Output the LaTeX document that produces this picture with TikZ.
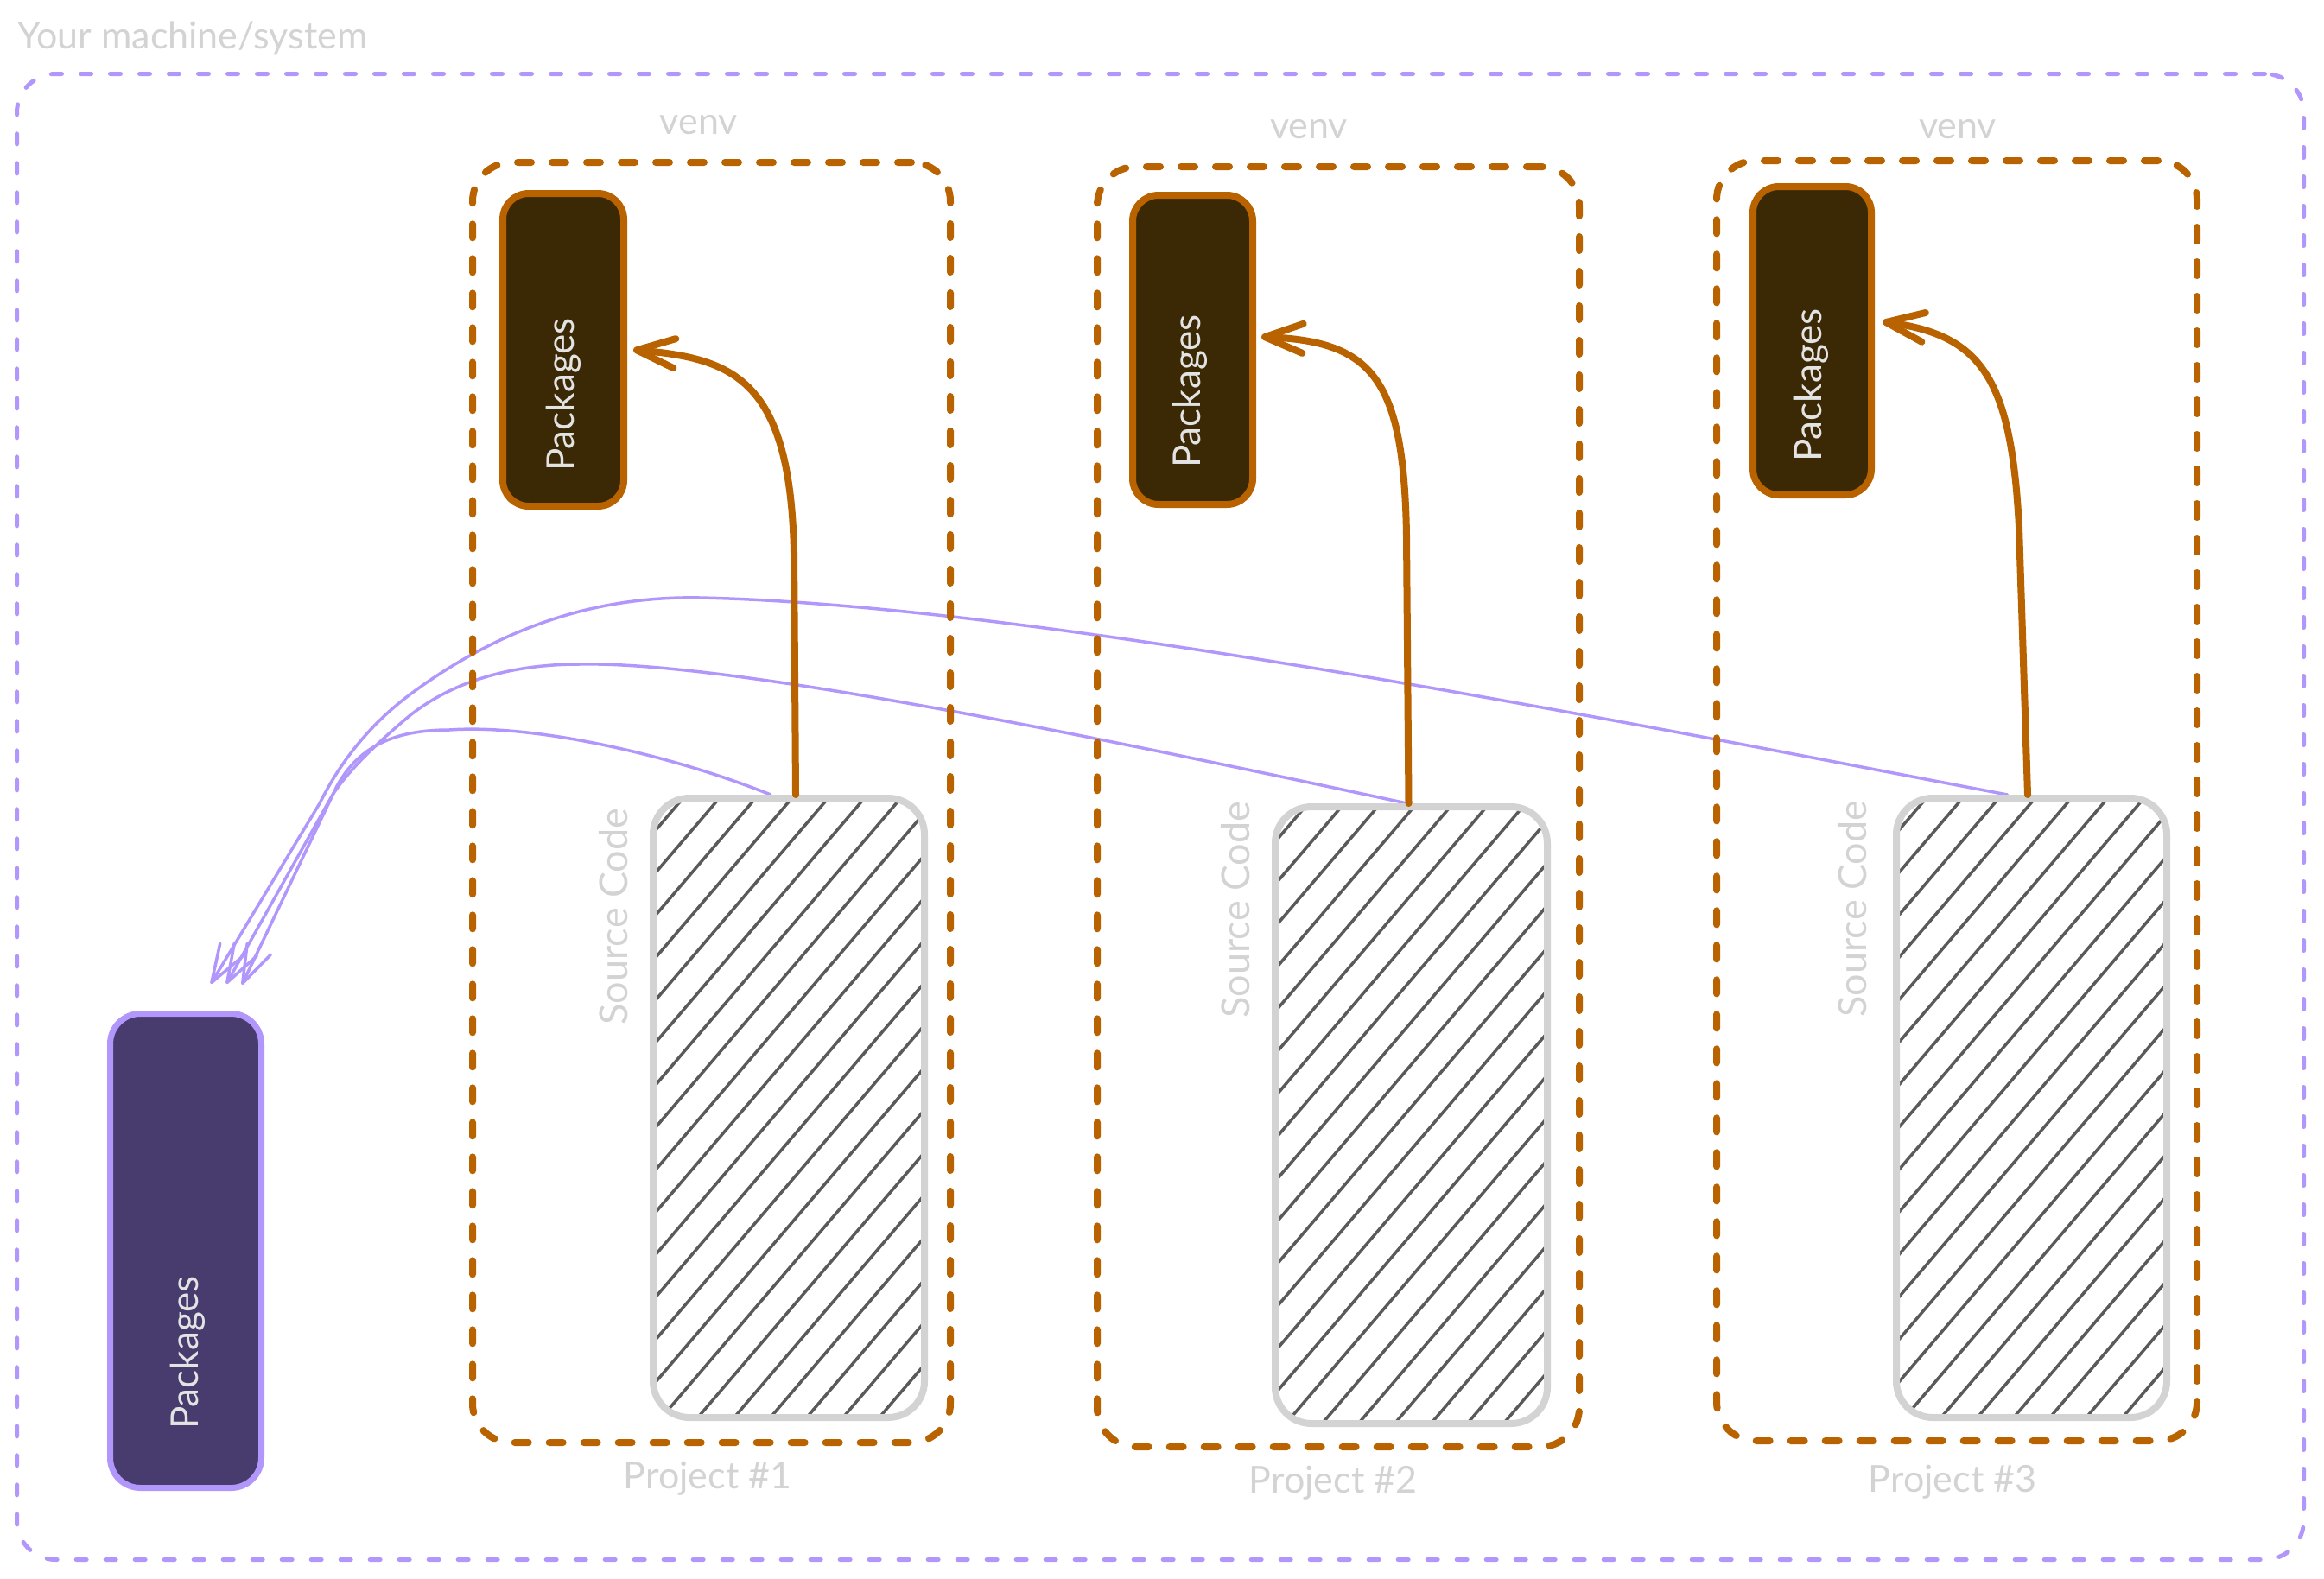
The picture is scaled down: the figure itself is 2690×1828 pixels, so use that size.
\documentclass[tikz,border=0pt]{standalone}
\usepackage{fontspec}
\setmainfont{Lato}
\usetikzlibrary{arrows.meta}
\pgfdeclarelayer{bg}
\pgfsetlayers{bg,main}
\definecolor{vio}{HTML}{B197FC}
\definecolor{viofill}{HTML}{483B6E}
\definecolor{orng}{HTML}{B86200}
\definecolor{brwn}{HTML}{3B2905}
\definecolor{lgray}{HTML}{D3D3D3}
\definecolor{hatchc}{HTML}{5A5A5A}
\definecolor{txtw}{HTML}{E3E3E3}
\newcommand\hatchin[4]{%
  \begin{scope}
    \clip[rounded corners=38pt] ({#1+4},{#2+4}) rectangle ({#3-4},{#4-4});
    \pgfmathsetmacro\hh{#4-#2}
    \pgfmathsetmacro\ww{\hh/1.17}
    \foreach \k in {0,...,24} {
      \draw[hatchline] ({#1-\ww+\k*42},{#4}) -- ++(\ww,-\hh);
    }
  \end{scope}}
\begin{document}
\begin{tikzpicture}[x=1pt,y=-1pt,
  lbl/.style={text=lgray, font=\fontsize{43}{50}\selectfont, inner sep=0pt},
  srclbl/.style={text=lgray, font=\fontsize{45}{52}\selectfont, inner sep=0pt, rotate=90},
  pkgtxt/.style={text=txtw, font=\fontsize{44}{52}\selectfont, rotate=90, inner sep=0pt},
  outerbox/.style={draw=vio, line width=5pt, dash pattern=on 12pt off 22pt, line cap=round, rounded corners=45pt, rectangle, inner sep=0pt},
  venvbox/.style={draw=orng, line width=8pt, dash pattern=on 16pt off 24pt, line cap=round, rounded corners=45pt, rectangle, inner sep=0pt},
  pkgbox/.style={draw=orng, fill=brwn, line width=8pt, rounded corners=30pt, rectangle, inner sep=0pt},
  syspkg/.style={draw=vio, fill=viofill, line width=7pt, rounded corners=35pt, rectangle, inner sep=0pt},
  srcbox/.style={draw=lgray, line width=8pt, rounded corners=42pt, rectangle, inner sep=0pt},
  hatchline/.style={draw=hatchc, line width=3.5pt, line cap=round},
  oarrow/.style={draw=orng, line width=8pt, line cap=round, line join=round, -{Straight Barb[length=44pt,width=34pt,round]}},
  parrow/.style={draw=vio, line width=3.5pt, line cap=round, line join=round, -{Straight Barb[length=44pt,width=30pt,round]}}
]
\useasboundingbox (0,0) rectangle (2690,1828);

% outer system box
\node[outerbox, minimum width=2647pt, minimum height=1720pt] (sys) at (1343,945.5) {};
\node[lbl, anchor=base west] (title) at (20,57) {Your machine/system};

% venv boxes
\node[venvbox, minimum width=553pt, minimum height=1482pt] (v1) at (823.5,929) {};
\node[venvbox, minimum width=558pt, minimum height=1482pt] (v2) at (1549,934) {};
\node[venvbox, minimum width=556pt, minimum height=1482pt] (v3) at (2265,927) {};
\node[lbl, anchor=base] (v1t) at (809,155) {venv};
\node[lbl, anchor=base] (v2t) at (1515,160) {venv};
\node[lbl, anchor=base] (v3t) at (2266,160) {venv};

% project labels
\node[lbl, anchor=base] (pr1) at (819,1723) {Project \#1};
\node[lbl, anchor=base] (pr2) at (1543,1728) {Project \#2};
\node[lbl, anchor=base] (pr3) at (2260,1727) {Project \#3};

% source code boxes with hatching
\hatchin{752}{920}{1074}{1645}
\hatchin{1472}{930}{1795}{1652}
\hatchin{2191}{920}{2512}{1645}
\node[srcbox, minimum width=314pt, minimum height=717pt] (s1) at (913,1282.5) {};
\node[srcbox, minimum width=315pt, minimum height=714pt] (s2) at (1633.5,1291) {};
\node[srcbox, minimum width=313pt, minimum height=717pt] (s3) at (2351.5,1282.5) {};
\node[srclbl] (s1t) at (710,1061) {Source Code};
\node[srclbl] (s2t) at (1430,1053) {Source Code};
\node[srclbl] (s3t) at (2144,1052) {Source Code};

% venv package boxes
\node[pkgbox, minimum width=140pt, minimum height=362pt] (p1) at (652,405) {};
\node[pkgbox, minimum width=139pt, minimum height=358pt] (p2) at (1380.5,405) {};
\node[pkgbox, minimum width=137pt, minimum height=357pt] (p3) at (2097.5,394.5) {};
\node[pkgtxt] (p1t) at (652,457) {Packages};
\node[pkgtxt] (p2t) at (1377,453) {Packages};
\node[pkgtxt] (p3t) at (2096,446) {Packages};

% system package box
\node[syspkg, minimum width=175pt, minimum height=549pt] (pk) at (215,1448) {};
\node[pkgtxt] (pkt) at (217,1566) {Packages};

% orange arrows: source -> venv packages
\draw[oarrow] ([xshift=8pt]s1.north) -- (919,640) .. controls (915,440) and (850,415) .. ([xshift=7pt]p1.east);
\draw[oarrow] ([xshift=-3pt]s2.north) -- (1628,620) .. controls (1625,440) and (1590,395) .. ([xshift=6pt,yshift=15pt]p2.east);
\draw[oarrow] ([xshift=-4.5pt]s3.north) -- (2337,610) .. controls (2328,440) and (2295,388) .. ([xshift=9pt,yshift=22pt]p3.east);

% purple arrows: source -> system packages
\begin{pgfonlayer}{bg}
\draw[parrow] ([xshift=-21pt]s1.north) .. controls (780,875) and (620,838) .. (520,845)
  .. controls (455,845) and (415,865) .. (390,910) -- ([xshift=65pt,yshift=30pt]pk.north);
\draw[parrow] ([xshift=-5pt]s2.north) .. controls (1300,860) and (850,765) .. (670,769)
  .. controls (590,769) and (520,790) .. (470,832)
  .. controls (435,862) and (405,890) .. (385,920) -- ([xshift=47pt,yshift=31pt]pk.north);
\draw[parrow] ([xshift=-28pt]s3.north) .. controls (1900,840) and (1200,700) .. (810,692)
  .. controls (700,690) and (590,720) .. (480,800)
  .. controls (430,836) and (395,880) .. (370,930) -- ([xshift=29pt,yshift=31pt]pk.north);
\end{pgfonlayer}
\end{tikzpicture}
\end{document}
